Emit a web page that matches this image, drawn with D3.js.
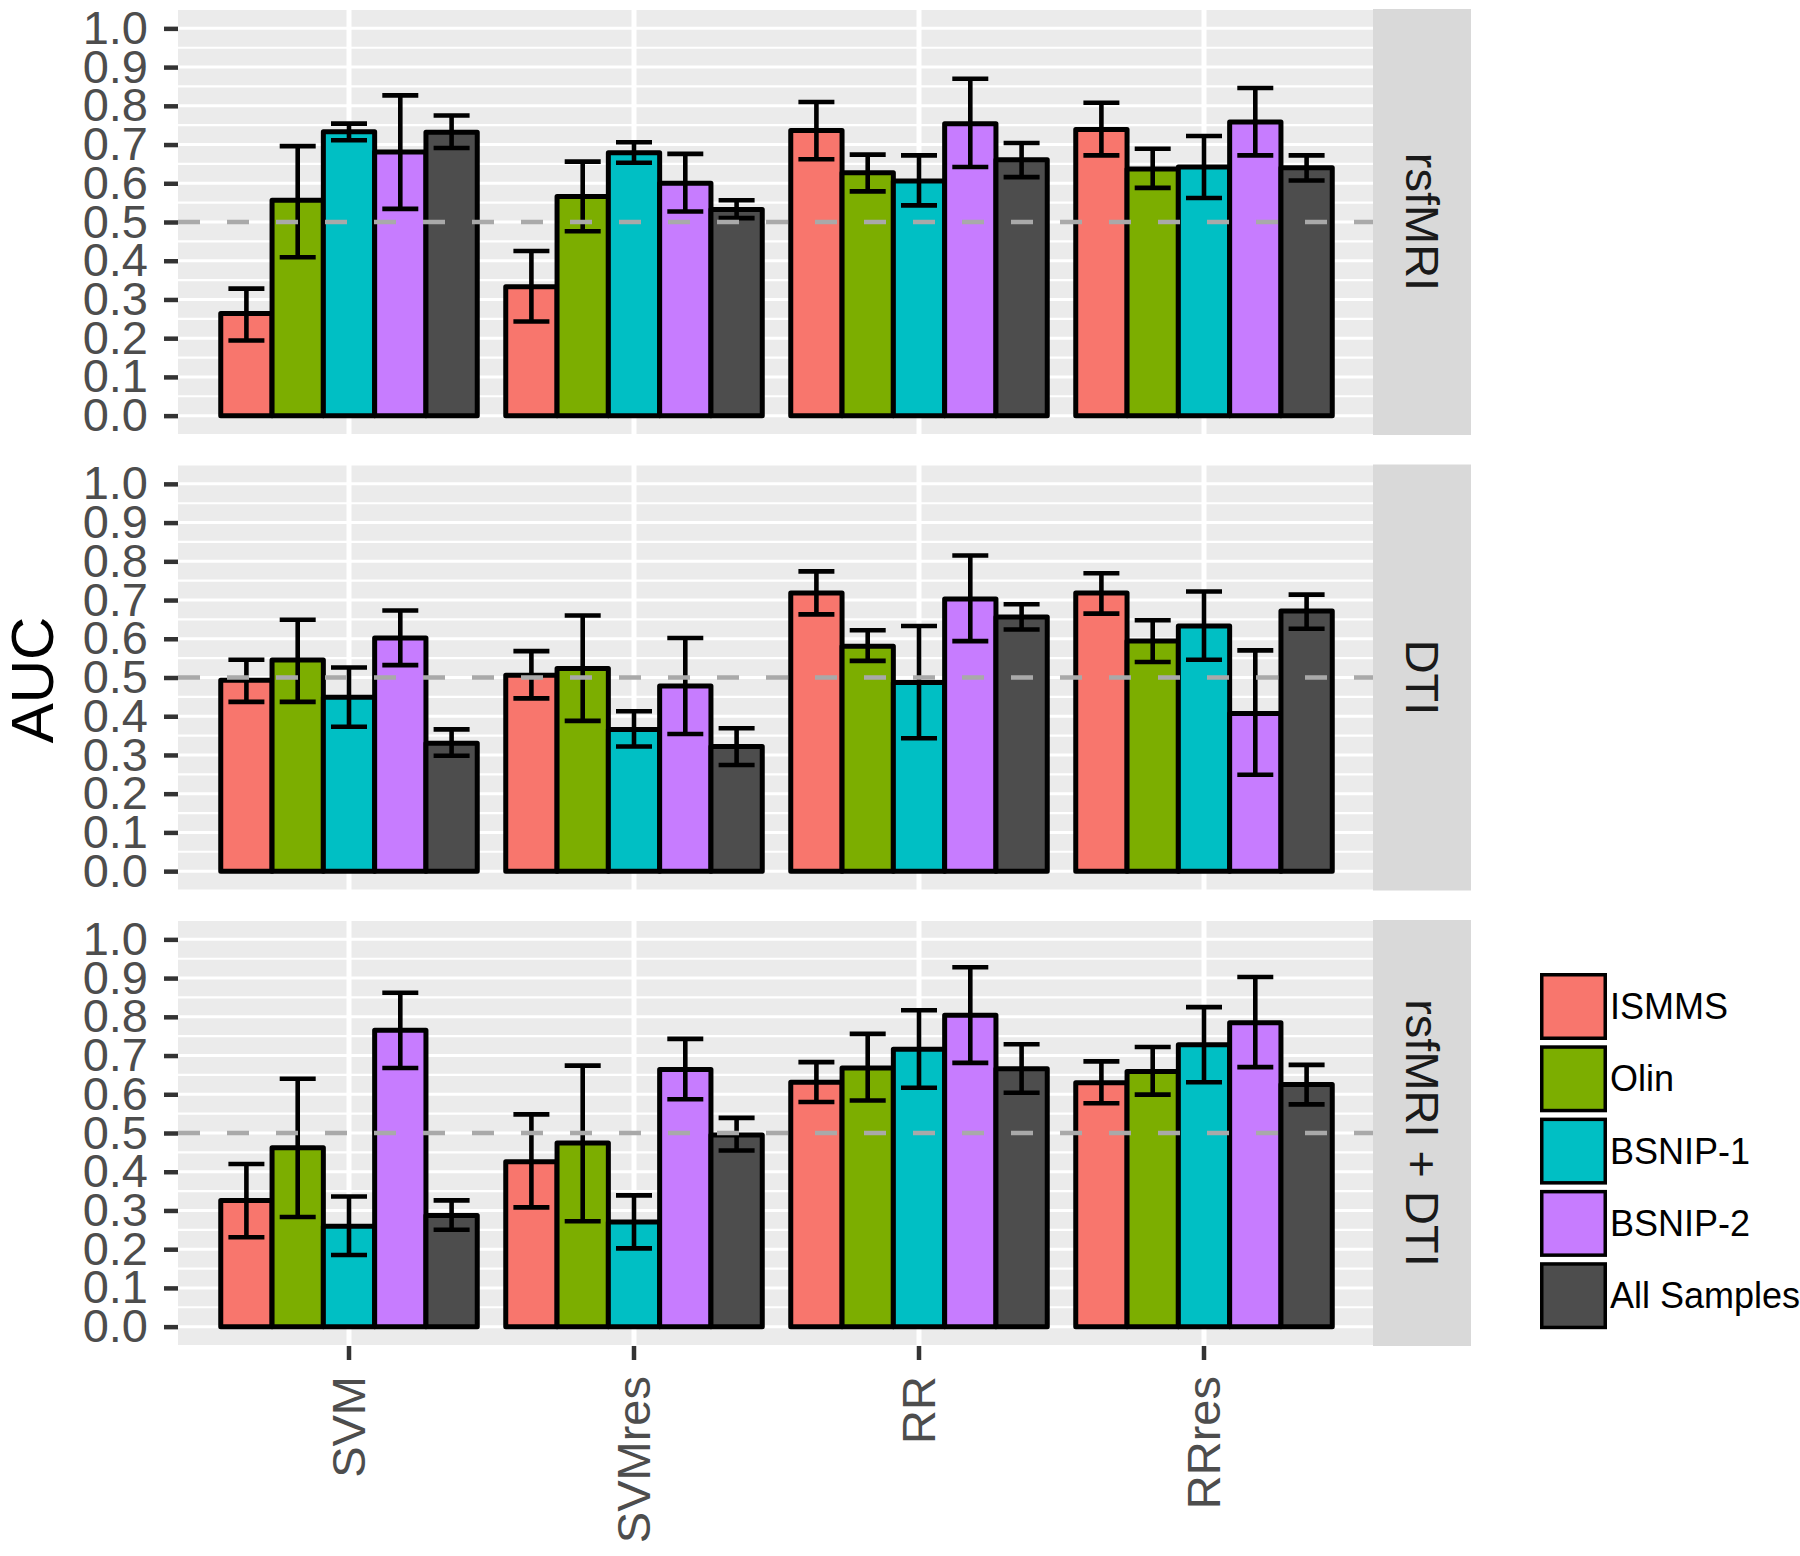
<!DOCTYPE html>
<html>
<head>
<meta charset="utf-8">
<script src="https://cdn.jsdelivr.net/npm/d3@7"></script>
<style>
  body { margin: 0; background: #ffffff; }
  svg { display: block; font-family: "Liberation Sans", Arial, sans-serif; }
</style>
</head>
<body>
<div id="chart"></div>
<script>
const methods = ["SVM", "SVMres", "RR", "RRres"];
const sites = ["ISMMS", "Olin", "BSNIP-1", "BSNIP-2", "All Samples"];
const siteColors = ["#F8766D", "#7CAE00", "#00BFC4", "#C77CFF", "#4D4D4D"];
const modalities = ["rsfMRI", "DTI", "rsfMRI + DTI"];
const yTicks = [0, 0.1, 0.2, 0.3, 0.4, 0.5, 0.6, 0.7, 0.8, 0.9, 1.0];
const chanceLevel = 0.5;

// one row per method, one column per site
const rsfmriAUC = [[0.264, 0.556, 0.733, 0.681, 0.732], [0.333, 0.566, 0.679, 0.600, 0.532], [0.736, 0.627, 0.606, 0.754, 0.661], [0.739, 0.637, 0.642, 0.758, 0.640]];
const rsfmriLow = [[0.194, 0.409, 0.711, 0.534, 0.691], [0.243, 0.476, 0.653, 0.527, 0.510], [0.662, 0.579, 0.543, 0.642, 0.616], [0.672, 0.588, 0.562, 0.672, 0.607]];
const rsfmriHigh = [[0.328, 0.696, 0.754, 0.827, 0.775], [0.425, 0.656, 0.706, 0.676, 0.556], [0.810, 0.674, 0.672, 0.870, 0.704], [0.808, 0.689, 0.722, 0.846, 0.672]];

const dtiAUC = [[0.493, 0.545, 0.449, 0.602, 0.330], [0.506, 0.523, 0.366, 0.478, 0.322], [0.718, 0.581, 0.487, 0.703, 0.656], [0.718, 0.594, 0.633, 0.407, 0.672]];
const dtiLow = [[0.437, 0.437, 0.373, 0.532, 0.298], [0.446, 0.388, 0.322, 0.354, 0.274], [0.663, 0.543, 0.343, 0.594, 0.624], [0.665, 0.540, 0.546, 0.249, 0.626]];
const dtiHigh = [[0.546, 0.649, 0.526, 0.673, 0.366], [0.568, 0.660, 0.413, 0.602, 0.369], [0.774, 0.622, 0.633, 0.815, 0.689], [0.769, 0.648, 0.722, 0.570, 0.714]];

const bothAUC = [[0.326, 0.462, 0.259, 0.765, 0.287], [0.426, 0.474, 0.270, 0.664, 0.495], [0.631, 0.668, 0.716, 0.804, 0.666], [0.630, 0.659, 0.728, 0.785, 0.625]];
const bothLow = [[0.231, 0.283, 0.185, 0.668, 0.250], [0.308, 0.272, 0.202, 0.587, 0.455], [0.580, 0.584, 0.617, 0.681, 0.604], [0.577, 0.599, 0.631, 0.670, 0.574]];
const bothHigh = [[0.420, 0.640, 0.336, 0.862, 0.326], [0.548, 0.674, 0.339, 0.743, 0.539], [0.683, 0.756, 0.817, 0.928, 0.729], [0.685, 0.722, 0.825, 0.903, 0.676]];

const panelAUC = [rsfmriAUC, dtiAUC, bothAUC];
const panelLow = [rsfmriLow, dtiLow, bothLow];
const panelHigh = [rsfmriHigh, dtiHigh, bothHigh];

const width = 1800;
const height = 1556;
const panelLeft = 178;
const panelRight = 1373;
const stripWidth = 98;
const panelHeight = 426;
const panelStep = 455.5;
const firstTop = 9;

const svg = d3.select("div#chart")
    .append("svg")
    .attr("width", width)
    .attr("height", height);

const xScale = d3.scaleBand()
    .domain(methods)
    .range([panelLeft, panelRight + 2])
    .paddingInner(0.1)
    .paddingOuter(0.15);
const siteScale = d3.scaleBand()
    .domain(sites)
    .range([0, xScale.bandwidth()]);
const colorScale = d3.scaleOrdinal().domain(sites).range(siteColors);
const capHalf = 18;

modalities.forEach((modality, p) => {
    const top = firstTop + p * panelStep;
    const yScale = d3.scaleLinear().domain([-0.05, 1.05]).range([top + panelHeight, top]);
    const g = svg.append("g");

    // panel background + grid
    g.append("rect")
        .attr("x", panelLeft).attr("y", top)
        .attr("width", panelRight - panelLeft).attr("height", panelHeight)
        .attr("fill", "#EBEBEB");
    const minor = d3.range(-0.05, 1.06, 0.1);
    g.selectAll("line.minor").data(minor).enter().append("line")
        .attr("x1", panelLeft).attr("x2", panelRight)
        .attr("y1", d => yScale(d)).attr("y2", d => yScale(d))
        .attr("stroke", "#ffffff").attr("stroke-width", 2.2);
    g.selectAll("line.major").data(yTicks).enter().append("line")
        .attr("x1", panelLeft).attr("x2", panelRight)
        .attr("y1", d => yScale(d)).attr("y2", d => yScale(d))
        .attr("stroke", "#ffffff").attr("stroke-width", 3);
    g.selectAll("line.vgrid").data(methods).enter().append("line")
        .attr("x1", d => xScale(d) + xScale.bandwidth() / 2)
        .attr("x2", d => xScale(d) + xScale.bandwidth() / 2)
        .attr("y1", top).attr("y2", top + panelHeight)
        .attr("stroke", "#ffffff").attr("stroke-width", 5);

    // strip on the right
    g.append("rect")
        .attr("x", panelRight).attr("y", top)
        .attr("width", stripWidth).attr("height", panelHeight)
        .attr("fill", "#D9D9D9");
    g.append("text")
        .attr("transform", "translate(" + (panelRight + stripWidth / 2) + "," + (top + panelHeight / 2) + ") rotate(90)")
        .attr("text-anchor", "middle")
        .attr("dy", "0.35em")
        .style("font-size", "47px")
        .attr("fill", "#1A1A1A")
        .text(modality);

    // bars
    const rows = [];
    methods.forEach((m, i) => {
        sites.forEach((s, j) => {
            rows.push({ method: m, site: s, auc: panelAUC[p][i][j], lo: panelLow[p][i][j], hi: panelHigh[p][i][j] });
        });
    });
    g.selectAll("rect.bar").data(rows).enter().append("rect")
        .attr("x", d => xScale(d.method) + siteScale(d.site))
        .attr("y", d => yScale(d.auc))
        .attr("width", siteScale.bandwidth())
        .attr("height", d => yScale(0) - yScale(d.auc))
        .attr("fill", d => colorScale(d.site))
        .attr("stroke", "#000000")
        .attr("stroke-width", 5)
        .attr("stroke-linejoin", "round");

    // error bars
    const barMid = d => xScale(d.method) + siteScale(d.site) + siteScale.bandwidth() / 2;
    const err = g.selectAll("g.err").data(rows).enter().append("g")
        .attr("stroke", "#000000").attr("stroke-width", 4.6);
    err.append("line")
        .attr("x1", barMid).attr("x2", barMid)
        .attr("y1", d => yScale(d.lo)).attr("y2", d => yScale(d.hi));
    err.append("line")
        .attr("x1", d => barMid(d) - capHalf).attr("x2", d => barMid(d) + capHalf)
        .attr("y1", d => yScale(d.hi)).attr("y2", d => yScale(d.hi));
    err.append("line")
        .attr("x1", d => barMid(d) - capHalf).attr("x2", d => barMid(d) + capHalf)
        .attr("y1", d => yScale(d.lo)).attr("y2", d => yScale(d.lo));

    // chance line
    g.append("line")
        .attr("x1", panelLeft).attr("x2", panelRight)
        .attr("y1", yScale(chanceLevel)).attr("y2", yScale(chanceLevel))
        .attr("stroke", "#A9A9A9").attr("stroke-width", 4.5)
        .attr("stroke-dasharray", "22 27");

    // y axis
    const yAxis = g.append("g")
        .attr("transform", "translate(" + panelLeft + ",0)")
        .call(d3.axisLeft(yScale).tickValues(yTicks).tickFormat(d3.format(".1f")).tickSize(14).tickPadding(16));
    yAxis.select(".domain").remove();
    yAxis.selectAll(".tick line").attr("stroke", "#333333").attr("stroke-width", 4.5);
    yAxis.selectAll(".tick text")
        .attr("fill", "#4D4D4D")
        .style("font-size", "47px")
        .style("font-family", "'Liberation Sans', Arial, sans-serif");

    if (p === modalities.length - 1) {
        const xAxis = g.append("g")
            .attr("transform", "translate(0," + (top + panelHeight) + ")")
            .call(d3.axisBottom(xScale).tickSize(14).tickPadding(0));
        xAxis.select(".domain").remove();
        xAxis.selectAll(".tick line").attr("stroke", "#333333").attr("stroke-width", 4.5);
        xAxis.selectAll(".tick text")
            .attr("fill", "#4D4D4D")
            .style("font-size", "47px")
            .style("font-family", "'Liberation Sans', Arial, sans-serif")
            .attr("text-anchor", "end")
            .attr("transform", "translate(0,30) rotate(-90)")
            .attr("x", 0).attr("y", 0)
            .attr("dy", "0.35em");
    }
});

// y axis title
svg.append("text")
    .attr("transform", "translate(32,680) rotate(-90)")
    .attr("text-anchor", "middle")
    .attr("dy", "0.35em")
    .style("font-size", "60px")
    .attr("fill", "#000000")
    .text("AUC");

// legend
const legend = svg.append("g").attr("transform", "translate(1540,973)");
sites.forEach((s, i) => {
    legend.append("rect")
        .attr("x", 1.75).attr("y", 1.75 + i * 72.3)
        .attr("width", 63.5).attr("height", 63.5)
        .attr("fill", colorScale(s))
        .attr("stroke", "#000000")
        .attr("stroke-width", 3.5);
    legend.append("text")
        .attr("x", 70).attr("y", 33.5 + i * 72.3)
        .attr("dy", "0.35em")
        .style("font-size", "36px")
        .attr("fill", "#000000")
        .text(s);
});
</script>
</body>
</html>
